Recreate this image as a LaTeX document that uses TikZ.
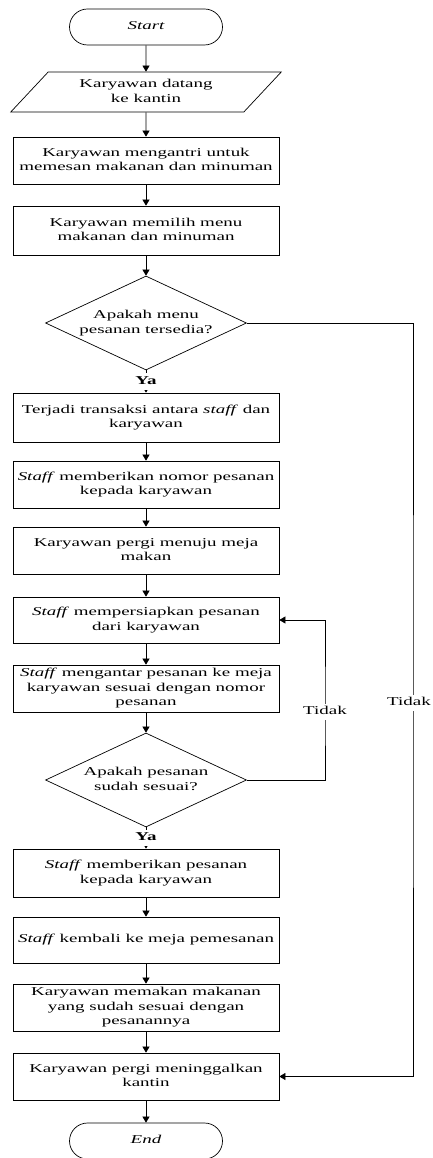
\documentclass[tikz,border=0pt]{standalone}
\usepackage{fontspec}
\usepackage{graphicx}
\setmainfont{Liberation Serif}
\usetikzlibrary{arrows.meta,shapes.geometric}
\newcommand\sx[1]{\scalebox{1.58}[1]{\begin{tabular}{@{}c@{}}#1\end{tabular}}}
\begin{document}
\begin{tikzpicture}[x=1pt,y=-1pt,
  font=\fontsize{12}{14.4}\selectfont,
  line/.style={line width=0.6pt, draw=black},
  arr/.style={line, -{Triangle[length=6pt,width=7pt]}},
  proc/.style={draw, line width=0.7pt, minimum width=266pt, inner sep=1pt},
  term/.style={draw, line width=0.7pt, rounded corners=18pt, minimum width=153pt, minimum height=36pt, font=\fontsize{12}{14.4}\selectfont\itshape},
  io/.style={draw, line width=0.7pt, trapezium, trapezium left angle=50, trapezium right angle=130, trapezium stretches=true, minimum width=271pt, minimum height=40pt, inner sep=1pt},
  dec/.style={draw, diamond, line width=0.7pt, minimum width=201pt, minimum height=94pt, aspect=2.14, inner sep=0pt},
  lbl/.style={fill=white, inner sep=1pt},
  ya/.style={lbl, font=\fontsize{12}{14.4}\selectfont\bfseries}
]
\useasboundingbox (0,0) rectangle (432,1158);

\node[term] (start) at (146,27) {\sx{Start}};
\node[io] (p1) at (146,92) {\sx{Karyawan datang\\ke kantin}};
\node[proc, minimum height=47pt] (b1) at (146,160.5) {\sx{Karyawan mengantri untuk\\memesan makanan dan minuman}};
\node[proc, minimum height=49pt] (b2) at (146,230.5) {\sx{Karyawan memilih menu\\makanan dan minuman}};
\node[dec] (d1) at (146,323) {\sx{Apakah menu\\pesanan tersedia?}};
\node[proc, minimum height=49pt] (b3) at (146,417.5) {\sx{Terjadi transaksi antara \textit{staff} dan\\karyawan}};
\node[proc, minimum height=47pt] (b4) at (146,484.5) {\sx{\textit{Staff} memberikan nomor pesanan\\kepada karyawan}};
\node[proc, minimum height=47pt] (b5) at (146,550.5) {\sx{Karyawan pergi menuju meja\\makan}};
\node[proc, minimum height=46pt] (b6) at (146,620) {\sx{\textit{Staff} mempersiapkan pesanan\\dari karyawan}};
\node[proc, minimum height=47pt] (b7) at (146,688.5) {\sx{\textit{Staff} mengantar pesanan ke meja\\karyawan sesuai dengan nomor\\pesanan}};
\node[dec] (d2) at (146,780) {\sx{Apakah pesanan\\sudah sesuai?}};
\node[proc, minimum height=48pt] (b8) at (146,873) {\sx{\textit{Staff} memberikan pesanan\\kepada karyawan}};
\node[proc, minimum height=46pt] (b9) at (146,940) {\sx{\textit{Staff} kembali ke meja pemesanan}};
\node[proc, minimum height=47pt] (b10) at (146,1007.5) {\sx{Karyawan memakan makanan\\yang sudah sesuai dengan\\pesanannya}};
\node[proc, minimum height=47pt] (b11) at (146,1076.5) {\sx{Karyawan pergi meninggalkan\\kantin}};
\node[term] (end) at (146,1141) {\sx{End}};

\coordinate (r1) at (413,703);
\coordinate (r2) at (325,712);

\draw[arr] (start.south) -- (p1.north);
\draw[arr] (p1.south) -- (b1.north);
\draw[arr] (b1.south) -- (b2.north);
\draw[arr] (b2.south) -- (d1.north);
\draw[arr] (d1.south) -- node[ya]{\sx{Ya}} (b3.north);
\draw[arr] (b3.south) -- (b4.north);
\draw[arr] (b4.south) -- (b5.north);
\draw[arr] (b5.south) -- (b6.north);
\draw[arr] (b6.south) -- (b7.north);
\draw[arr] (b7.south) -- (d2.north);
\draw[arr] (d2.south) -- node[ya]{\sx{Ya}} (b8.north);
\draw[arr] (b8.south) -- (b9.north);
\draw[arr] (b9.south) -- (b10.north);
\draw[arr] (b10.south) -- (b11.north);
\draw[arr] (b11.south) -- (end.north);

\draw[arr] (d1.east) -| (r1) |- (b11.east);
\node[lbl, anchor=east, inner sep=0.5pt] (t1) at (431.5,703) {\sx{Tidak}};
\draw[arr] (d2.east) -| (r2) |- (b6.east);
\node[lbl] (t2) at (r2) {\sx{Tidak}};
\end{tikzpicture}
\end{document}
